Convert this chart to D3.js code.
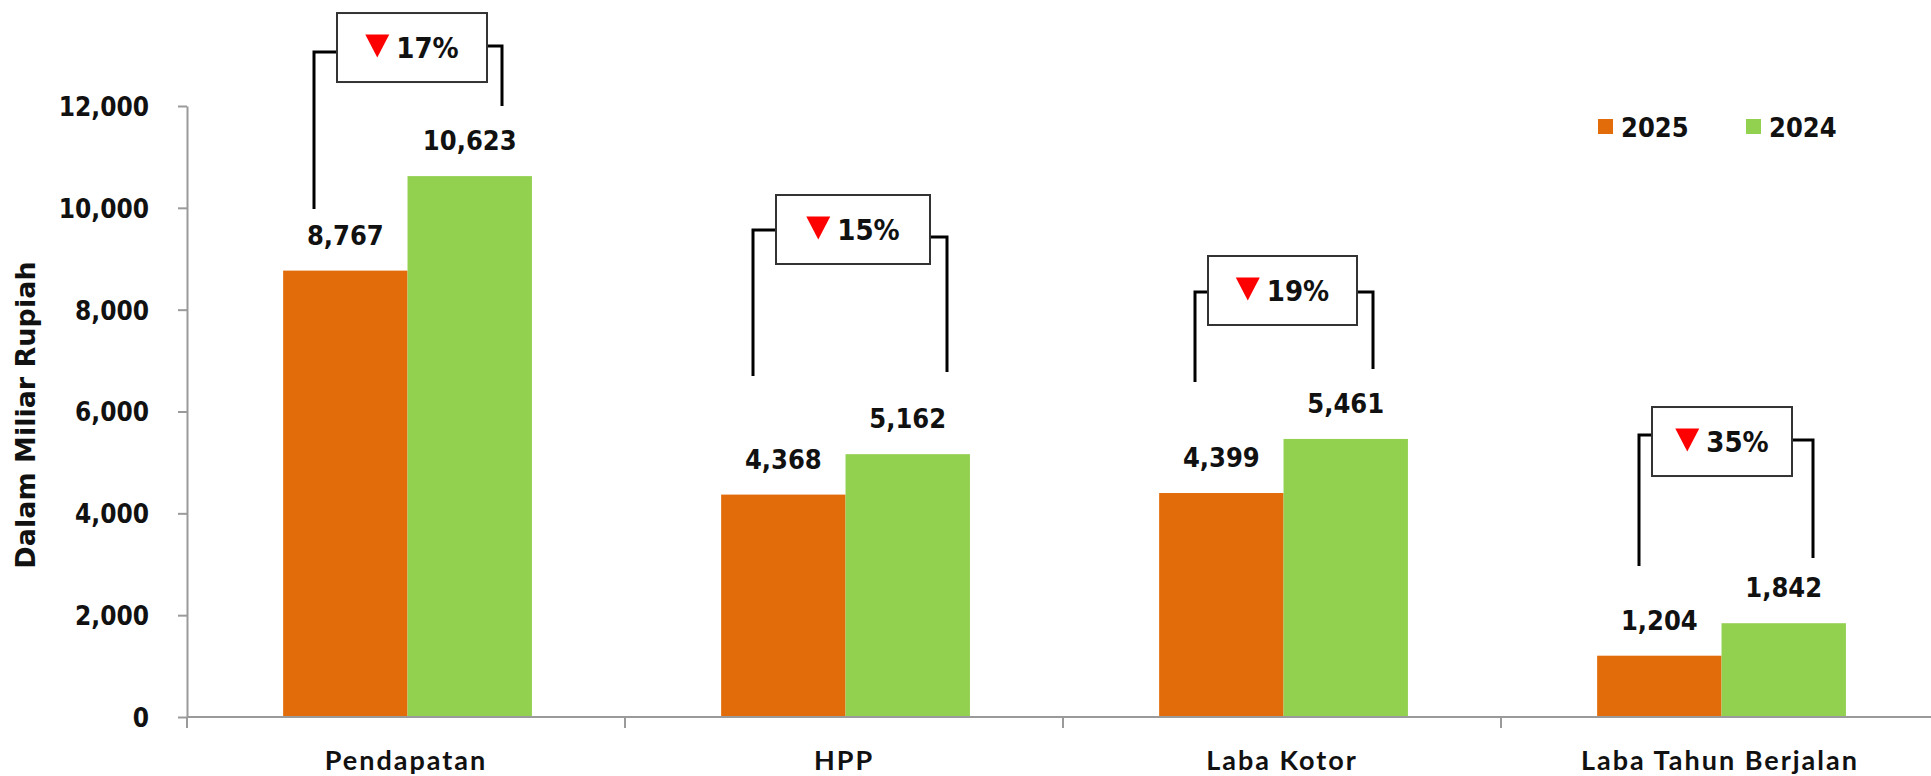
<!DOCTYPE html>
<html>
<head>
<meta charset="utf-8">
<script src="https://cdn.jsdelivr.net/npm/d3@7/dist/d3.min.js"></script>
<style>
  html, body { margin: 0; padding: 0; background: #fff; }
  svg { display: block; }
</style>
</head>
<body>
<svg id="chart" width="1931" height="776"></svg>
<script>
// ---- data ----
const categories = ["Pendapatan", "HPP", "Laba Kotor", "Laba Tahun Berjalan"];
const seriesNames = ["2025", "2024"];
const values2025 = [8767, 4368, 4399, 1204];
const values2024 = [10623, 5162, 5461, 1842];
const changeLabels = ["17%", "15%", "19%", "35%"];
const yTicks = [0, 2000, 4000, 6000, 8000, 10000, 12000];
const yTitle = "Dalam Miliar Rupiah";

// ---- layout of change callouts (y in data units, x offsets in px from category centre) ----
const calloutBoxTop = [13826, 10252, 9054, 6088];
const calloutBoxX = [[-69, 81], [-68, 86], [-74, 75], [-68, 72]];
const calloutLeftX = [-92, -91, -87, -81];
const calloutRightX = [96, 103, 91, 93];
const calloutLeftY = [[13060, 9977], [9565, 6697], [8347, 6579], [5538, 2966]];
const calloutRightY = [[13178, 12000], [9427, 6776], [8347, 6835], [5440, 3123]];

const colors = { "2025": "#E36C0A", "2024": "#92D050" };
const valueFont = "'DejaVu Sans Condensed', 'DejaVu Sans', sans-serif";

const svg = d3.select("#chart");

const y = d3.scaleLinear().domain([0, 12000]).range([717, 106]);
const x = d3.scaleBand().domain(categories).range([187, 1939]).paddingInner(0).paddingOuter(0);
const bw = x.bandwidth();
const x1 = d3.scaleBand().domain(seriesNames).range([bw * 0.2195, bw * 0.7875]).padding(0);

const rows = categories.map((c, i) => ({
  cat: c,
  vals: [{ s: "2025", v: values2025[i] }, { s: "2024", v: values2024[i] }]
}));

// ---- bars ----
const g = svg.append("g");
const cg = g.selectAll("g.cat").data(rows).join("g")
  .attr("class", "cat")
  .attr("transform", d => `translate(${x(d.cat)},0)`);

cg.selectAll("rect").data(d => d.vals).join("rect")
  .attr("x", d => x1(d.s))
  .attr("width", x1.bandwidth())
  .attr("y", d => y(d.v))
  .attr("height", d => y(0) - y(d.v))
  .attr("fill", d => colors[d.s]);

cg.selectAll("text.val").data(d => d.vals).join("text")
  .attr("class", "val")
  .attr("x", d => x1(d.s) + x1.bandwidth() / 2)
  .attr("y", d => y(d.v) - 26)
  .attr("text-anchor", "middle")
  .attr("font-family", valueFont)
  .attr("font-weight", "bold")
  .attr("font-size", 27)
  .attr("fill", "#111")
  .text(d => d3.format(",")(d.v));

// ---- y axis ----
const yAxis = d3.axisLeft(y).tickValues(yTicks).tickFormat(d3.format(",")).tickSize(9).tickSizeOuter(0).tickPadding(29);
const yg = svg.append("g").attr("transform", "translate(187,0)").call(yAxis);
yg.select(".domain").attr("stroke", "#9a9a9a").attr("stroke-width", 2);
yg.selectAll(".tick line").attr("stroke", "#9a9a9a").attr("stroke-width", 2);
yg.selectAll(".tick text")
  .attr("font-family", valueFont)
  .attr("font-weight", "bold")
  .attr("font-size", 26)
  .attr("fill", "#111")
  .attr("dy", "0.36em");

// ---- x axis ----
const xg = svg.append("g").attr("transform", "translate(0,717)");
xg.append("line").attr("x1", 187).attr("x2", 1939).attr("y1", 0).attr("y2", 0)
  .attr("stroke", "#9a9a9a").attr("stroke-width", 2);
const bounds = categories.map(c => x(c)).concat([x(categories[categories.length - 1]) + bw]);
xg.selectAll("line.bt").data(bounds).join("line")
  .attr("class", "bt")
  .attr("x1", d => d).attr("x2", d => d).attr("y1", 0).attr("y2", 11)
  .attr("stroke", "#9a9a9a").attr("stroke-width", 2);
const xAxis = d3.axisBottom(x).tickSize(0).tickPadding(0);
const xl = svg.append("g").attr("transform", "translate(0,717)").call(xAxis);
xl.select(".domain").remove();
xl.selectAll(".tick text")
  .attr("font-family", "Lato, sans-serif")
  .attr("font-weight", "bold")
  .attr("font-size", 27)
  .attr("letter-spacing", 2)
  .attr("fill", "#111")
  .attr("dy", 0)
  .attr("y", 53);

// ---- y title ----
svg.append("text")
  .attr("transform", "translate(35,415) rotate(-90)")
  .attr("text-anchor", "middle")
  .attr("font-family", "'DejaVu Sans', sans-serif")
  .attr("font-weight", "bold")
  .attr("font-size", 27)
  .attr("fill", "#111")
  .text(yTitle);

// ---- legend ----
const legendX = [1598, 1746];
const lg = svg.append("g");
seriesNames.forEach((s, i) => {
  lg.append("rect").attr("x", legendX[i]).attr("y", 119).attr("width", 15).attr("height", 15).attr("fill", colors[s]);
  lg.append("text").attr("x", legendX[i] + 23).attr("y", 137)
    .attr("font-family", valueFont).attr("font-weight", "bold").attr("font-size", 27).attr("fill", "#111")
    .text(s);
});

// ---- change callouts ----
categories.forEach((c, i) => {
  const cx = x(c) + bw / 2;
  const a = svg.append("g");
  const bt = y(calloutBoxTop[i]);
  const bh = 69;
  const bx0 = cx + calloutBoxX[i][0], bx1 = cx + calloutBoxX[i][1];
  const lx = cx + calloutLeftX[i], rx = cx + calloutRightX[i];
  a.append("path")
    .attr("d", `M${lx},${y(calloutLeftY[i][1])}V${y(calloutLeftY[i][0])}H${bx0}`)
    .attr("fill", "none").attr("stroke", "#000").attr("stroke-width", 3);
  a.append("path")
    .attr("d", `M${bx1},${y(calloutRightY[i][0])}H${rx}V${y(calloutRightY[i][1])}`)
    .attr("fill", "none").attr("stroke", "#000").attr("stroke-width", 3);
  a.append("rect").attr("x", bx0).attr("y", bt).attr("width", bx1 - bx0).attr("height", bh)
    .attr("fill", "#fff").attr("stroke", "#333").attr("stroke-width", 2);
  const t = a.append("text")
    .attr("y", bt + bh / 2 + 10)
    .attr("font-family", valueFont).attr("font-weight", "bold").attr("font-size", 29).attr("fill", "#111")
    .text(changeLabels[i]);
  const tw = t.node().getComputedTextLength();
  const triW = 24, triH = 23, gap = 7;
  const total = triW + gap + tw;
  const start = (bx0 + bx1) / 2 - total / 2;
  t.attr("x", start + triW + gap);
  const ty = bt + bh / 2 - 13;
  a.append("path")
    .attr("d", `M${start},${ty}H${start + triW}L${start + triW / 2},${ty + triH}Z`)
    .attr("fill", "#FF0000");
});
</script>
</body>
</html>
